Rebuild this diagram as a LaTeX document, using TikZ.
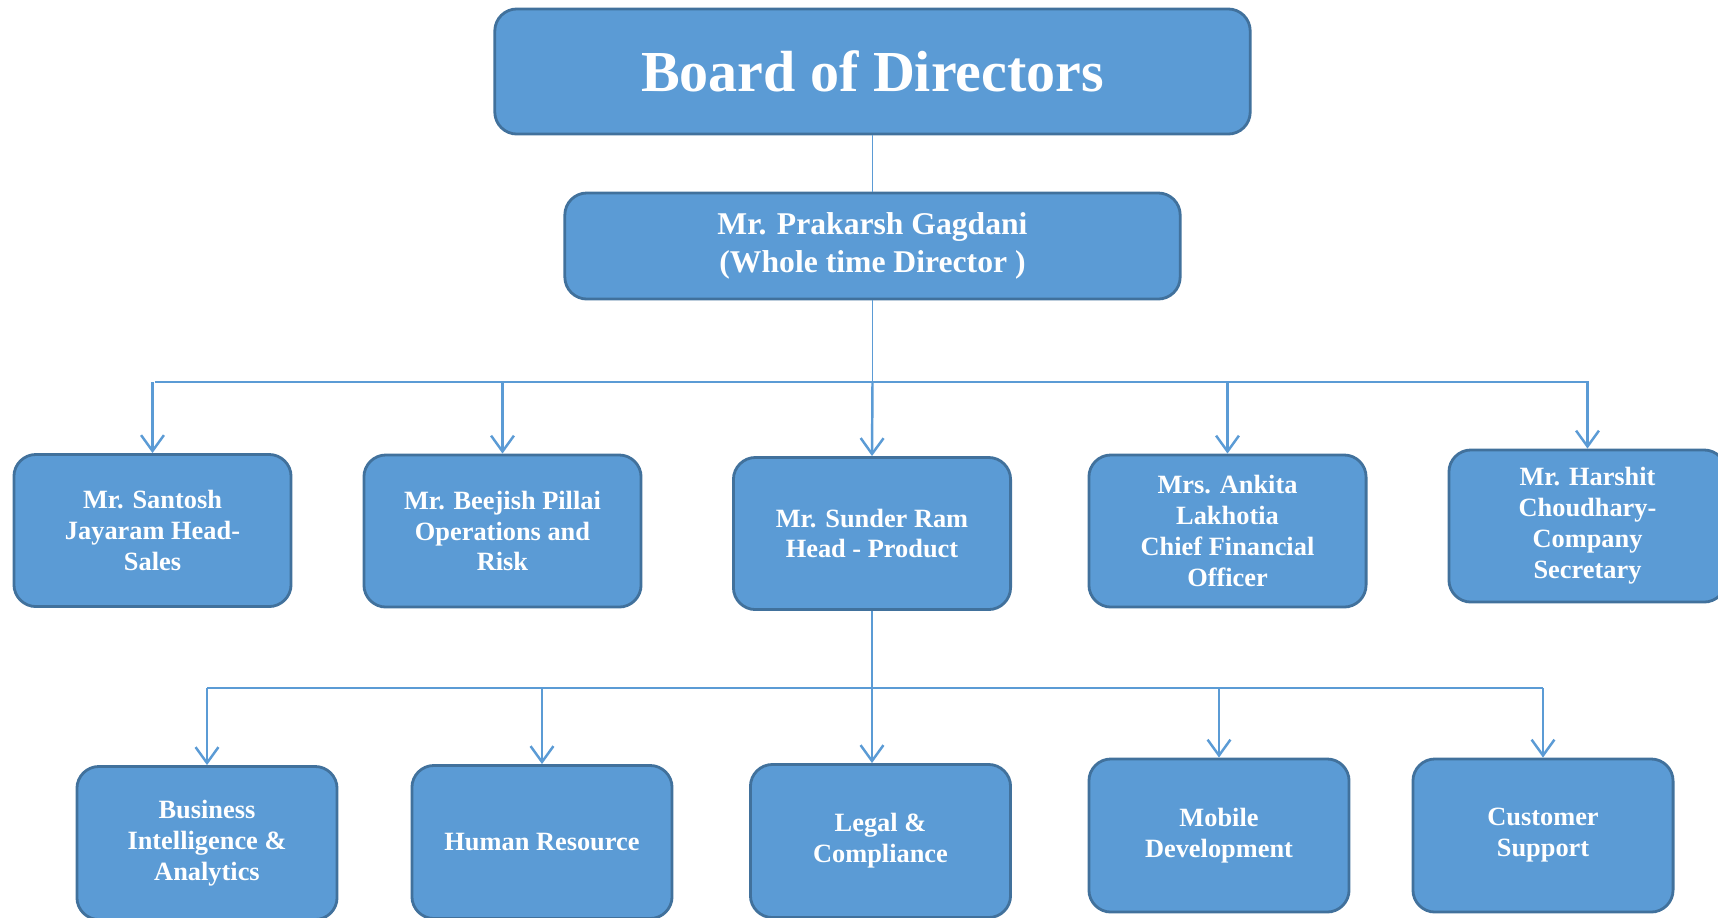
\documentclass[tikz,border=0pt]{standalone}
\usepackage{fontspec}
\setmainfont{Liberation Serif}
\usetikzlibrary{arrows.meta}
\definecolor{boxblue}{HTML}{5B9BD5}
\definecolor{boxedge}{HTML}{41719C}
\definecolor{linkblue}{HTML}{5B9BD5}

\begin{document}
\begin{tikzpicture}[x=0.01cm,y=-0.01cm]
\tikzstyle{every node}=[text=white,align=center]
\tikzstyle{post}=[shape=rectangle,rounded corners=0.22cm,draw=boxedge,fill=boxblue,line width=0.8pt,minimum width=2.77cm,minimum height=1.52cm,inner sep=0pt,font=\fontsize{7.5}{8.8}\selectfont\bfseries]
\tikzstyle{dept}=[post,minimum width=2.6cm,minimum height=1.53cm]
\tikzstyle{link}=[draw=linkblue,line width=0.4pt]
\tikzstyle{arr}=[draw=linkblue,line width=0.7pt,-{Straight Barb[length=4.5pt,width=6.5pt]}]

\useasboundingbox (0,0) rectangle (1718,917);

\node[post,minimum width=7.55cm,minimum height=1.25cm,font=\fontsize{16.5}{20}\selectfont\bfseries] (board) at (872.5,71.5) {Board of Directors};
\node[post,minimum width=6.15cm,minimum height=1.06cm,font=\fontsize{9}{10.9}\selectfont\bfseries] (pk) at (872.5,246) {Mr. Prakarsh Gagdani\\(Whole time Director )};

\node[post] (sj) at (152.5,530.5) {Mr. Santosh\\Jayaram Head-\\Sales};
\node[post] (bp) at (502.5,531) {Mr. Beejish Pillai\\Operations and\\Risk};
\node[post] (sr) at (872,533.5) {Mr. Sunder Ram\\Head - Product};
\node[post] (ak) at (1227.5,531) {Mrs. Ankita\\Lakhotia\\Chief Financial\\Officer};
\node[post] (hc) at (1587.5,526) {Mr. Harshit\\Choudhary-\\Company\\Secretary};

\node[dept] (bi) at (207,843) {Business\\Intelligence \&\\Analytics};
\node[dept] (hr) at (542,842) {Human Resource};
\node[dept] (lc) at (880.5,841) {Legal \&\\Compliance};
\node[dept] (md) at (1219,835.5) {Mobile\\Development};
\node[dept] (cs) at (1543,835.5) {Customer\\Support};

% top level
\draw[link] (board.south) -- (pk.north);
\coordinate (busL) at (155,382);
\coordinate (busR) at (1589,382);
\draw[link] (busL) -- (busR);
\draw[link] (pk.south) -- (pk.south |- busL);
\draw[arr] (pk.south |- busL) -- (sr.north);
\foreach \n in {sj,bp,ak,hc}
  \draw[arr] (\n.north |- busL) -- (\n.north);

% product teams
\coordinate (subL) at (207,688);
\coordinate (subR) at (1543,688);
\draw[link] (subL) -- (subR);
\draw[link] (sr.south) -- (sr.south |- subL);
\draw[arr] (sr.south |- subL) -- (sr.south |- lc.north);
\foreach \n in {bi,hr,md,cs}
  \draw[arr] (\n.north |- subL) -- (\n.north);

\end{tikzpicture}
\end{document}
